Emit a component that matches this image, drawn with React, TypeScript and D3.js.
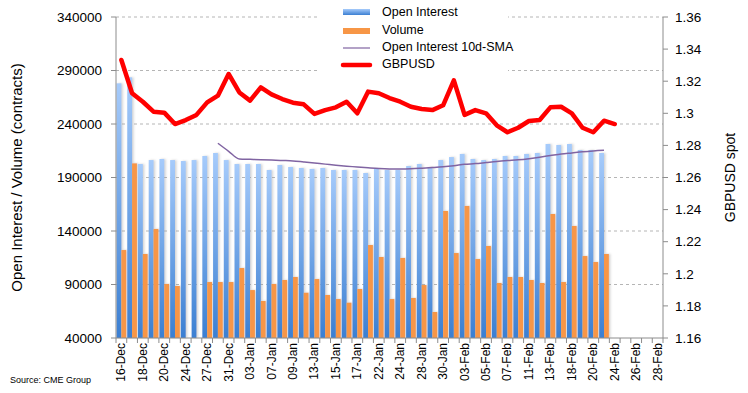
import React from 'react';
import * as d3 from 'd3';

// trading days on the x axis
const categories = [
  '16-Dec', '17-Dec', '18-Dec', '19-Dec', '20-Dec', '23-Dec', '24-Dec', '26-Dec', '27-Dec', '30-Dec',
  '31-Dec', '02-Jan', '03-Jan', '06-Jan', '07-Jan', '08-Jan', '09-Jan', '10-Jan', '13-Jan', '14-Jan',
  '15-Jan', '16-Jan', '17-Jan', '21-Jan', '22-Jan', '23-Jan', '24-Jan', '27-Jan', '28-Jan', '29-Jan',
  '30-Jan', '31-Jan', '03-Feb', '04-Feb', '05-Feb', '06-Feb', '07-Feb', '10-Feb', '11-Feb', '12-Feb',
  '13-Feb', '14-Feb', '18-Feb', '19-Feb', '20-Feb', '21-Feb', '24-Feb', '25-Feb', '26-Feb', '27-Feb',
  '28-Feb',
];

const openInterest = [
  278000, 283600, 202600, 206300, 207300, 206300, 205400, 206300, 210100, 212900,
  206300, 202600, 202600, 202600, 197000, 201700, 199800, 198900, 198000, 198900,
  197000, 197000, 197000, 194200, 198000, 197000, 197000, 200700, 202600, 199800,
  206300, 209100, 212000, 207300, 206300, 207300, 210100, 210100, 212000, 212900,
  221300, 220400, 221300, 215700, 215700, 212900,
];

const volume: (number | null)[] = [
  122200, 203200, 118500, 141900, 90500, 88600, null, null, 92300, 92300,
  92300, 105400, 84800, 74600, 90500, 94200, 97000, 82300, 95100, 80200,
  76400, 73000, 85800, 126900, 115700, 76400, 114800, 77400, 89500, 64300,
  158700, 119400, 163400, 113800, 126000, 91400, 97000, 97000, 94200, 91400,
  155900, 92300, 144700, 116600, 111000, 118500,
];

// 10d SMA of open interest, first value on 30-Dec
const smaStart = 9;
const oiSma = [
  222000, 214500, 207300, 207000, 206700, 206300, 205900, 205500, 204500, 203500,
  202500, 201500, 200600, 199800, 199000, 198300, 198000, 198000, 198200, 198700,
  199300, 200000, 201000, 202300, 203000, 204000, 205000, 205800, 206500, 207600,
  209000, 210500, 212000, 213000, 214000, 214800, 215400,
];

const gbpusd = [
  1.3332, 1.3125, 1.3072, 1.301, 1.3004, 1.2933, 1.2958, 1.299, 1.3068, 1.311,
  1.3245, 1.313, 1.3079, 1.3162, 1.3118, 1.3089, 1.3066, 1.3056, 1.2996, 1.302,
  1.3037, 1.3072, 1.300, 1.3135, 1.3125, 1.3095, 1.3072, 1.3041, 1.3027, 1.302,
  1.305, 1.3205, 1.299, 1.302, 1.300, 1.2925, 1.2882, 1.291, 1.2952, 1.2958,
  1.3037, 1.3041, 1.300, 1.291, 1.2882, 1.2954, 1.2933,
];

const leftTicks = [40000, 90000, 140000, 190000, 240000, 290000, 340000];
const rightTicks = [1.16, 1.18, 1.2, 1.22, 1.24, 1.26, 1.28, 1.3, 1.32, 1.34, 1.36];

const W = 748, H = 393;
const left = 116, right = 663, top = 17, bottom = 338;
const font = 'Liberation Sans, Arial, sans-serif';
const axisColor = '#8c8c8c';

export default function App() {
  const x = d3.scaleBand<string>().domain(categories).range([left, right]).padding(0);
  const bw = x.bandwidth();
  const y = d3.scaleLinear().domain([40000, 340000]).range([bottom, top]);
  const y2 = d3.scaleLinear().domain([1.16, 1.36]).range([bottom, top]);
  const cx = (i: number) => (x(categories[i]) as number) + bw / 2;

  const smaLine = d3.line<number>()
    .x((_, i) => cx(i + smaStart))
    .y(d => y(d))
    .curve(d3.curveMonotoneX);
  const fxLine = d3.line<number>()
    .x((_, i) => cx(i))
    .y(d => y2(d));

  return (
    <svg width={W} height={H} style={{ position: 'absolute', left: 0, top: 0, background: '#fff' }}>
      <defs>
        <linearGradient id="oiGrad" x1="0" y1="0" x2="0" y2="1">
          <stop offset="0%" stopColor="#a6cbfb" />
          <stop offset="100%" stopColor="#3b7fd2" />
        </linearGradient>
        <filter id="shadow" x="-50%" y="-5%" width="200%" height="110%">
          <feDropShadow dx="1.5" dy="0" stdDeviation="0.8" floodColor="#999" floodOpacity="0.45" />
        </filter>
      </defs>

      {/* gridlines */}
      {leftTicks.slice(1).map(t => (
        <line key={t} x1={left} x2={right} y1={y(t)} y2={y(t)}
          stroke="#b5b5b5" strokeWidth={1} strokeDasharray="3,3" />
      ))}

      {/* legend box background */}
      <rect x={318} y={1} width={190} height={74} fill="#fff" />

      {/* bars */}
      <g filter="url(#shadow)">
        {openInterest.map((v, i) => (
          <rect key={'oi' + i} x={(x(categories[i]) as number) + bw * 0.05} width={bw * 0.45}
            y={y(v)} height={bottom - y(v)} fill="url(#oiGrad)" />
        ))}
        {volume.map((v, i) => v == null ? null : (
          <rect key={'v' + i} x={(x(categories[i]) as number) + bw * 0.5} width={bw * 0.45}
            y={y(v)} height={bottom - y(v)} fill="#f79646" />
        ))}
      </g>

      {/* lines */}
      <path d={smaLine(oiSma) || ''} fill="none" stroke="#8064a2" strokeWidth={1.5} />
      <path d={fxLine(gbpusd) || ''} fill="none" stroke="#ff0000" strokeWidth={4.5}
        strokeLinejoin="round" strokeLinecap="round" />

      {/* left axis */}
      <line x1={left} x2={left} y1={top} y2={bottom} stroke={axisColor} />
      {leftTicks.map(t => (
        <g key={t}>
          <line x1={left - 5} x2={left} y1={y(t)} y2={y(t)} stroke={axisColor} />
          <text x={left - 14} y={y(t)} dy="0.35em" textAnchor="end" fontFamily={font} fontSize={13.5} fill="#000">{t}</text>
        </g>
      ))}
      <text transform={`translate(22,${(top + bottom) / 2}) rotate(-90)`} textAnchor="middle"
        fontFamily={font} fontSize={15} fill="#000">Open Interest / Volume (contracts)</text>

      {/* right axis */}
      <line x1={right} x2={right} y1={top} y2={bottom} stroke={axisColor} />
      {rightTicks.map(t => (
        <g key={t}>
          <line x1={right} x2={right + 5} y1={y2(t)} y2={y2(t)} stroke={axisColor} />
          <text x={right + 12} y={y2(t)} dy="0.35em" fontFamily={font} fontSize={13.5} fill="#000">{d3.format('')(+t.toFixed(2))}</text>
        </g>
      ))}
      <text transform={`translate(735,${(top + bottom) / 2}) rotate(-90)`} textAnchor="middle"
        fontFamily={font} fontSize={14} fill="#000">GBPUSD spot</text>

      {/* x axis */}
      <line x1={left} x2={right} y1={bottom} y2={bottom} stroke={axisColor} />
      {categories.map((c, i) => (
        <line key={'t' + i} x1={x(c) as number} x2={x(c) as number} y1={bottom} y2={bottom + 5} stroke={axisColor} />
      ))}
      <line x1={right} x2={right} y1={bottom} y2={bottom + 5} stroke={axisColor} />
      {categories.map((c, i) => i % 2 === 0 ? (
        <text key={'l' + i} transform={`translate(${cx(i) + 4},${bottom + 5}) rotate(-90)`}
          textAnchor="end" fontFamily={font} fontSize={12} fill="#000">{c}</text>
      ) : null)}

      {/* legend */}
      <g fontFamily={font} fontSize={12.5} fill="#000">
        <rect x={343} y={9} width={27} height={6} fill="url(#oiGrad)" />
        <text x={382} y={12} dy="0.35em">Open Interest</text>
        <rect x={343} y={28} width={27} height={6} fill="#f79646" />
        <text x={382} y={30} dy="0.35em">Volume</text>
        <line x1={343} x2={370} y1={48} y2={48} stroke="#8064a2" strokeWidth={1.2} />
        <text x={382} y={47} dy="0.35em">Open Interest 10d-SMA</text>
        <line x1={343} x2={370} y1={65} y2={65} stroke="#ff0000" strokeWidth={4.5} strokeLinecap="round" />
        <text x={382} y={64} dy="0.35em">GBPUSD</text>
      </g>

      <text x={10} y={383} fontFamily={font} fontSize={9} fill="#000">Source: CME Group</text>
    </svg>
  );
}
